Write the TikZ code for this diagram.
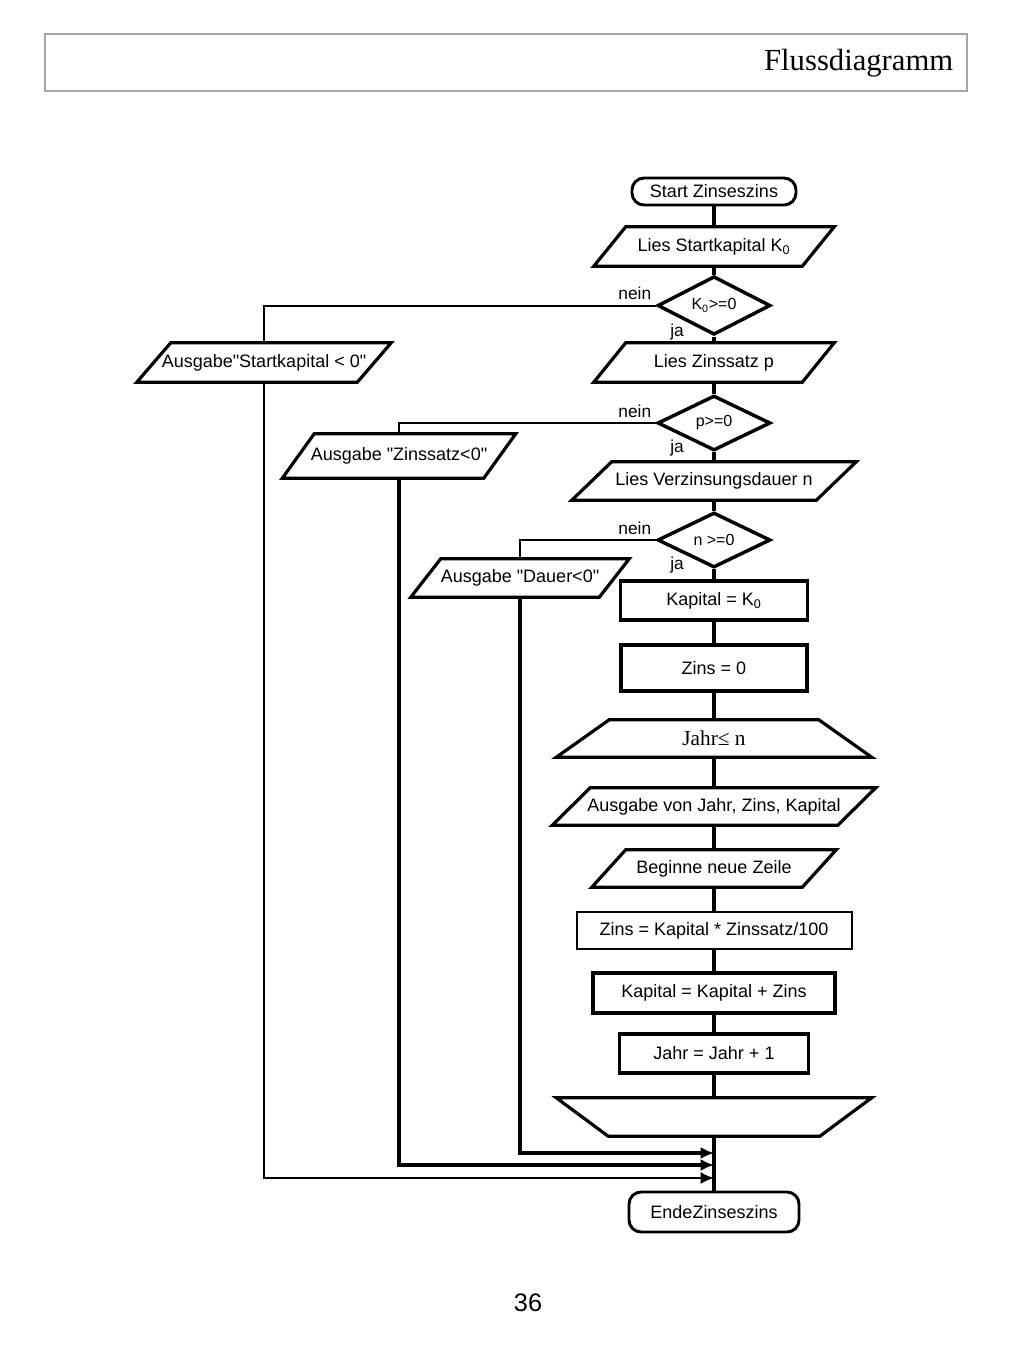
\documentclass[tikz,border=0pt]{standalone}
\usepackage{fontspec}
\setmainfont{Liberation Sans}[Ligatures=TeXOff]
\newfontfamily\timesfont{Liberation Serif}
\usetikzlibrary{shapes.geometric,arrows.meta}
% slanted outline for input/output boxes
\newcommand{\slantbox}[2]{\draw[frame] ([shift={(#2,0)}]#1.north west) -- ([shift={(#2,0)}]#1.north east) -- ([shift={(-#2,0)}]#1.south east) -- ([shift={(-#2,0)}]#1.south west) -- cycle;}
% loop boxes: inset on top, inset at bottom
\newcommand{\loopbox}[3]{\draw[frame] ([shift={(#2,0)}]#1.north west) -- ([shift={(-#2,0)}]#1.north east) -- ([shift={(-#3,0)}]#1.south east) -- ([shift={(#3,0)}]#1.south west) -- cycle;}

\begin{document}
\begin{tikzpicture}[x=0.75pt,y=-0.75pt,
    every node/.style={font=\fontsize{13.5}{15}\selectfont, inner sep=0pt},
    dim/.style 2 args={minimum width=#1*0.75pt, minimum height=#2*0.75pt},
    io/.style={rectangle},
    frame/.style={line width=2.4pt, line join=miter},
    proc/.style={draw, line width=2.6pt},
    thinproc/.style={draw, line width=1.5pt},
    term/.style={draw, line width=2.2pt, rounded corners=9pt},
    test/.style={draw, diamond, line width=2.6pt, font=\fontsize{12}{14}\selectfont},
    lbl/.style={font=\fontsize{13}{15}\selectfont},
    flow/.style={line width=3pt},
    side/.style={line width=1.5pt},
    merge/.style={-{Latex[length=10pt,width=9pt]}}]
  \useasboundingbox (0,0) rectangle (1024,1365);

  % header and page number
  \node[draw=black!35, line width=0.8pt, dim={922}{57}] (kopf) at (506,62.5) {};
  \node[anchor=east, font=\timesfont\fontsize{23}{26}\selectfont] (titel) at ([shift={(-14,1)}]kopf.east) {Flussdiagramm};
  \node[font=\fontsize{19}{22}\selectfont] (seite) at (528,1303) {36};

  % main column
  \node[term, dim={164}{27}] (start) at (714,191.5) {Start Zinseszins};
  \node[io, dim={208}{39}] (lieskap) at (714,246.5) {Lies Startkapital K\textsubscript{0}};
  \node[test, dim={113}{55}] (testkap) at (714,305.5) {K\textsubscript{0}>=0};
  \node[io, dim={208}{39}] (lieszins) at (714,362.5) {Lies Zinssatz p};
  \node[test, dim={113}{55}] (testzins) at (714,423) {p>=0};
  \node[io, dim={244}{38}] (liesdauer) at (714,481) {Lies Verzinsungsdauer n};
  \node[test, dim={113}{55}] (testdauer) at (714,540) {n >=0};
  \node[proc, dim={187}{39}] (kapital) at (714,600.5) {Kapital = K\textsubscript{0}};
  \node[proc, dim={186}{46}] (zins) at (714,668) {Zins = 0};
  \node[io, dim={315}{37}, font=\timesfont\fontsize{16}{18}\selectfont] (jahr) at (714,738.5) {Jahr≤ n};
  \node[io, dim={285}{37}] (ausgabe) at (714,806.5) {Ausgabe von Jahr, Zins, Kapital};
  \node[io, dim={210}{37}] (zeile) at (714,868.5) {Beginne neue Zeile};
  \node[thinproc, dim={275}{37}] (zinsber) at (714,930.5) {Zins = Kapital * Zinssatz/100};
  \node[proc, dim={242}{40}] (kapber) at (714,993) {Kapital = Kapital + Zins};
  \node[proc, dim={189}{39}] (jahrplus) at (714,1053.5) {Jahr = Jahr + 1};
  \node[io, dim={315}{38}] (loopend) at (714,1117) {};
  \node[term, dim={170}{40}] (ende) at (714,1212) {EndeZinseszins};

  % error outputs
  \node[io, dim={220}{39}] (fehlkap) at (264,362.5) {Ausgabe"Startkapital < 0"};
  \node[io, dim={201}{44}] (fehlzins) at (399,456) {Ausgabe "Zinssatz<0"};
  \node[io, dim={188}{38}] (fehldauer) at (520,578) {Ausgabe "Dauer<0"};

  \slantbox{lieskap}{16}
  \slantbox{lieszins}{16}
  \slantbox{liesdauer}{20}
  \slantbox{ausgabe}{19}
  \slantbox{zeile}{17}
  \slantbox{fehlkap}{17}
  \slantbox{fehlzins}{16}
  \slantbox{fehldauer}{15}
  \loopbox{jahr}{53}{0}
  \loopbox{loopend}{0}{52}

  % yes/no labels
  \node[lbl] (nein1) at ([shift={(-21,-12)}]testkap.west) {nein};
  \node[lbl] (ja1) at ([shift={(-37,-4)}]testkap.south) {ja};
  \node[lbl] (nein2) at ([shift={(-21,-12)}]testzins.west) {nein};
  \node[lbl] (ja2) at ([shift={(-37,-4)}]testzins.south) {ja};
  \node[lbl] (nein3) at ([shift={(-21,-12)}]testdauer.west) {nein};
  \node[lbl] (ja3) at ([shift={(-37,-4)}]testdauer.south) {ja};

  \coordinate (m1) at (714,1153);
  \coordinate (m2) at (714,1165);
  \coordinate (m3) at (714,1178);

  \draw[flow] (start) -- (lieskap) -- (testkap) -- (lieszins) -- (testzins) -- (liesdauer) -- (testdauer) -- (kapital) -- (zins) -- (jahr) -- (ausgabe) -- (zeile) -- (zinsber) -- (kapber) -- (jahrplus) -- (loopend) -- (ende);

  \draw[side] (testkap.west) -| (fehlkap.north);
  \draw[side, merge] (fehlkap.south) |- (m3);
  \draw[side] (testzins.west) -| (fehlzins.north);
  \draw[flow, merge] (fehlzins.south) |- (m2);
  \draw[side] (testdauer.west) -| (fehldauer.north);
  \draw[flow, merge] (fehldauer.south) |- (m1);
\end{tikzpicture}
\end{document}
